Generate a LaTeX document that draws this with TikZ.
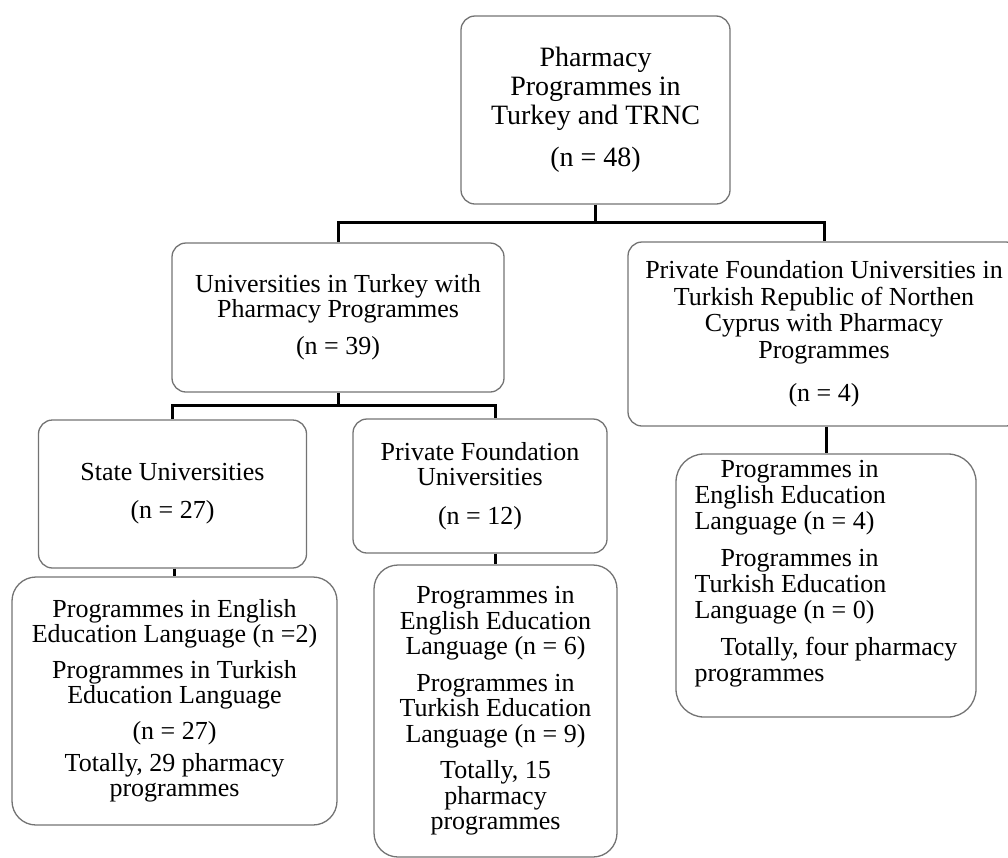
\documentclass[tikz,border=0pt]{standalone}
\usepackage{fontspec}
\setmainfont{Liberation Serif}
\begin{document}
\begin{tikzpicture}[x=1pt,y=-1pt,
  box/.style={draw=black!55, line width=1.3pt, rounded corners=14pt, align=center, inner sep=0pt,
    font=\fontsize{26}{25}\selectfont},
  lowbox/.style={box, rounded corners=24pt},
  conn/.style={draw=black, line width=3pt}]
\useasboundingbox (0,0) rectangle (1008,857);
\clip (0,0) rectangle (1008,857);

\node[box, minimum width=269pt, minimum height=188pt, font=\fontsize{28}{29}\selectfont] (top) at (595.5,110)
  {Pharmacy\\Programmes in\\Turkey and TRNC\\[13pt](n = 48)};

\node[box, minimum width=332pt, minimum height=149pt] (univ) at (338,317.5)
  {Universities in Turkey with\\Pharmacy Programmes\\[12pt](n = 39)};

\node[box, minimum width=392pt, minimum height=184pt, font=\fontsize{26}{26.5}\selectfont] (right) at (824,334)
  {Private Foundation Universities in\\Turkish Republic of Northen\\Cyprus with Pharmacy\\Programmes\\[17pt](n = 4)};

\node[box, minimum width=268pt, minimum height=148pt] (state) at (172.5,494)
  {State Universities\\[13pt](n = 27)};

\node[box, minimum width=254pt, minimum height=134pt] (priv) at (480,486)
  {Private Foundation\\Universities\\[14pt](n = 12)};

\node[lowbox, minimum width=325pt, minimum height=248pt] (stateb) at (174.5,701)
  {Programmes in English\\Education Language (n =2)\\[11pt]Programmes in Turkish\\Education Language\\[11pt](n = 27)\\[7pt]Totally, 29 pharmacy\\programmes};

\node[lowbox, minimum width=243pt, minimum height=292pt, font=\fontsize{26}{25.5}\selectfont] (privb) at (495.5,711)
  {Programmes in\\English Education\\Language (n = 6)\\[11pt]Programmes in\\Turkish Education\\Language (n = 9)\\[11pt]Totally, 15\\pharmacy\\programmes};

\node[lowbox, align=left, minimum width=300pt, minimum height=263pt, rounded corners=28pt, font=\fontsize{26}{26}\selectfont] (rightb) at (826,585.5)
  {\hspace*{26pt}Programmes in\\English Education\\Language (n = 4)\\[11pt]\hspace*{26pt}Programmes in\\Turkish Education\\Language (n = 0)\\[11pt]\hspace*{26pt}Totally, four pharmacy\\programmes\\[4pt]};

\coordinate (bus1) at (595.5,222);
\coordinate (bus2) at (338,405);

\draw[conn] (top.south) -- (bus1);
\draw[conn] (univ.north) |- (right.north |- bus1) -- (right.north);
\draw[conn] (univ.south) -- (bus2);
\draw[conn] (state.north) |- (privb.north |- bus2) -- (privb.north |- priv.north);
\draw[conn] (stateb.north |- state.south) -- (stateb.north);
\draw[conn] (privb.north |- priv.south) -- (privb.north);
\draw[conn] (rightb.north |- right.south) -- (rightb.north);
\end{tikzpicture}
\end{document}
